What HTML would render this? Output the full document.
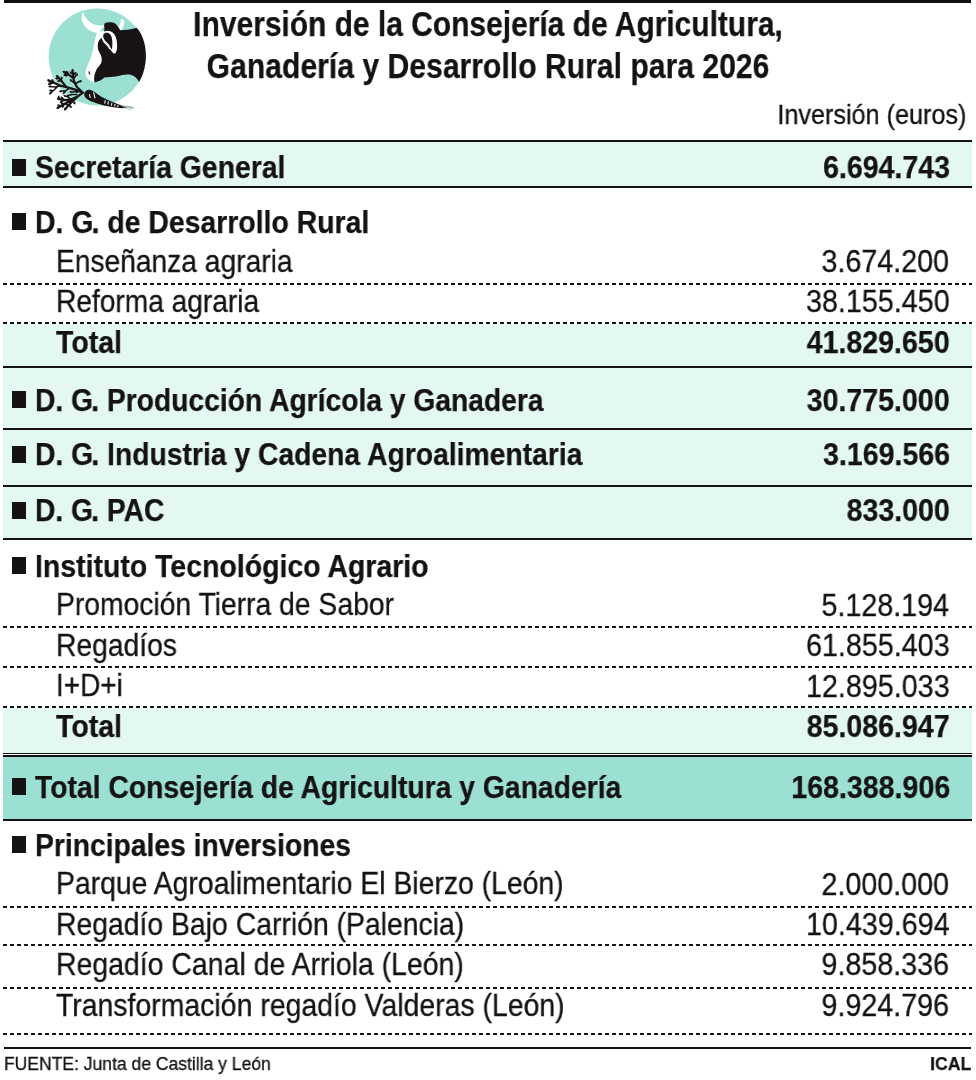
<!DOCTYPE html>
<html lang="es"><head><meta charset="utf-8"><title>Inversión de la Consejería de Agricultura</title>
<style>
html,body{margin:0;padding:0;background:#fff}
body{width:976px;height:1080px;position:relative;overflow:hidden;font-family:"Liberation Sans",sans-serif;color:#151213}
.r{position:absolute}
.d{position:absolute;background-image:repeating-linear-gradient(90deg,#151213 0,#151213 4px,transparent 4px,transparent 7px)}
.t{position:absolute;white-space:nowrap;line-height:1;will-change:transform}
.b{font-weight:700;-webkit-text-stroke:0.25px #151213}
.n{font-weight:400;-webkit-text-stroke:0.3px #151213}
.c{text-align:center}
.k{letter-spacing:-2px}
</style></head>
<body>
<div class="r" style="left:4px;top:0px;width:967px;height:3px;background:#120f10"></div>
<svg class="ic" style="position:absolute;left:40px;top:0px" width="120" height="124" viewBox="40 0 120 124">
<circle cx="97.2" cy="56.9" r="48.5" fill="#9be0d3"/>
<g transform="translate(76,8) scale(0.07582)">
<path d="M84 60 C64 122 76 206 142 270 C194 310 246 326 300 330 L375 228 C320 238 250 228 190 190 C145 158 112 110 100 62 Z" fill="#fff"/>
<path d="M292 316 L380 300 L350 390 L300 450 L290 520 L310 590 L345 650 L335 735 L275 800 L240 890 L243 978 C198 972 142 940 126 880 C118 830 148 770 182 690 C212 610 232 520 250 420 C258 380 270 340 286 316 Z" fill="#fff"/>
<path d="M592 150 C615 138 632 150 636 190 C636 230 620 268 588 292 L556 252 C580 232 592 195 592 150 Z" fill="#fff"/>
<path d="M372 208 C410 186 470 184 512 200 C545 222 565 262 582 292 C640 290 720 290 800 262 C870 330 925 480 922 640 C918 780 880 900 832 975 C805 925 770 892 720 880 C660 868 600 885 540 900 C480 912 420 912 372 915 C352 945 300 970 243 978 C232 920 245 860 275 805 C300 765 330 745 338 710 C345 670 335 630 312 590 C292 555 282 510 290 465 C298 425 325 395 350 388 C340 360 348 335 372 320 C378 280 372 240 372 208 Z" fill="#181415"/>
<path d="M345 335 C370 295 440 285 490 330 C535 375 550 460 540 540 C535 575 522 598 505 604 C470 590 455 545 430 505 C410 478 380 462 362 430 C345 400 338 365 345 335 Z" fill="#fff"/>
<path d="M360 352 C378 322 424 318 452 350 C478 382 484 450 478 512 C476 532 474 542 470 546 C456 528 446 500 428 476 C410 456 390 442 376 418 C362 396 354 374 360 352 Z" fill="#181415"/>
<path d="M340 398 C310 420 286 470 290 520 C294 560 310 580 330 572 C348 560 356 520 358 478 C358 450 352 420 340 398 Z" fill="#181415"/>
<path d="M342 392 C352 430 372 462 405 484 C425 498 438 520 448 545" stroke="#fff" stroke-width="14" fill="none"/>
<ellipse cx="176" cy="856" rx="9" ry="24" transform="rotate(-14 176 856)" fill="#181415"/>
</g>
<g transform="translate(44,64) scale(0.09836)">
<path d="M412 296 C418 272 440 258 466 262 C490 268 510 282 528 296 C560 322 600 345 650 366 C700 386 750 406 800 426 L840 442 L800 450 C760 448 700 440 650 430 C590 418 540 402 500 386 C470 374 438 360 422 342 C410 326 406 308 410 294 Z" fill="#181415"/>
<g stroke="#f2fbf9" stroke-width="11" stroke-linecap="round" fill="none">
<path d="M505 292 L518 345"/>
<path d="M462 312 L470 340"/>
<path d="M622 372 L618 398"/>
<path d="M655 384 L650 408"/>
<path d="M690 398 L686 418"/>
<path d="M722 410 L720 426"/>
<path d="M752 420 L750 434"/>
</g>
<g stroke="#5f8791" stroke-width="5" fill="none" stroke-linecap="round"><path d="M800 432 L915 452"/><path d="M810 426 L900 436"/><path d="M805 440 L885 466"/><path d="M830 436 L905 444"/></g>
</g>
<g transform="translate(40,60) scale(0.06147)">
<path d="M700 532 L600 440 L552 340 L536 250 L530 168 M700 532 L560 478 L430 442 L330 418 L230 372 L138 332 M700 532 L610 596 L510 640 L400 652 L298 632 M610 596 L540 660 L470 730 L408 802 M546 300 L470 240 L388 192 M430 442 L345 335 L280 264 M510 650 L390 720 L288 778" stroke="#181415" stroke-width="36" stroke-linecap="round" stroke-linejoin="round" fill="none"/>
<path d="M566 390 L640 350 L662 344 M546 300 L600 236 M536 250 L576 214 M560 370 L500 330 M538 230 L500 204 M470 240 L440 196 M470 240 L420 252 M424 214 L400 242 M345 335 L300 342 M345 335 L352 290 M312 298 L270 302 M330 418 L250 440 L156 430 M280 440 L216 500 L166 544 M230 372 L160 382 M230 372 L202 330 M186 354 L150 390 M480 456 L420 500 L332 510 M420 500 L384 542 M216 500 L170 496 M510 640 L450 600 L402 582 M400 652 L352 612 M400 652 L342 682 M298 632 L304 600 M470 730 L428 720 M470 730 L500 762 M540 660 L562 702 M390 720 L350 700 M390 720 L372 760 M332 755 L300 738 M600 560 L520 562 L452 582 M580 516 L500 520 M640 470 L600 520" stroke="#181415" stroke-width="25" stroke-linecap="round" stroke-linejoin="round" fill="none"/>
<path d="M528 140L559 189L530 168L505 193Z M113 321L170 316L138 332L148 366Z M271 627L326 610L298 632L315 663Z M390 823L403 767L408 802L443 802Z M364 178L421 180L388 192L394 227Z M261 244L315 263L280 264L276 299Z M264 792L295 743L288 778L321 790Z M689 337L647 376L662 344L633 324Z M618 215L606 271L600 236L565 236Z M597 196L577 249L576 214L541 209Z M477 315L534 320L500 330L504 365Z M477 188L534 195L500 204L504 239Z M424 173L475 200L440 196L431 230Z M393 258L436 220L420 252L449 273Z M382 263L394 207L400 242L435 242Z M273 346L319 312L300 342L327 365Z M356 263L375 317L352 290L322 309Z M243 305L290 273L270 302L295 327Z M129 427L182 406L156 430L176 459Z M145 562L165 509L166 544L201 549Z M133 386L179 352L160 382L187 405Z M187 307L237 334L202 330L192 364Z M130 410L147 355L150 390L185 393Z M305 513L352 481L332 510L358 534Z M366 563L378 507L384 542L419 542Z M143 494L195 471L170 496L191 525Z M376 572L433 565L402 582L414 615Z M331 594L387 606L352 612L352 647Z M317 695L350 647L342 682L375 695Z M309 573L326 628L304 600L273 618Z M401 714L457 699L428 720L444 752Z M519 782L465 764L500 762L504 727Z M575 726L527 694L562 702L575 669Z M325 688L383 686L350 700L358 734Z M361 785L357 728L372 760L406 750Z M276 725L333 725L300 738L308 773Z M426 590L466 550L452 582L482 601Z M472 521L522 492L500 520L524 546Z M583 542L593 485L600 520L635 519Z" fill="#181415"/>
</g>
</svg>
<div class="t b c " style="left:-12.4px;width:1000px;top:7px;font-size:35.4px;transform:scaleX(0.846);transform-origin:50% 0">Inversión de la Consejería de Agricultura,</div>
<div class="t b c " style="left:-12.4px;width:1000px;top:49px;font-size:35.4px;transform:scaleX(0.8515);transform-origin:50% 0">Ganadería y Desarrollo Rural para 2026</div>
<div class="t n " style="right:9.5px;top:101px;font-size:27.5px;transform:scaleX(0.916);transform-origin:100% 0">Inversión (euros)</div>
<div class="r" style="left:3.1px;top:141px;width:969.2px;height:46.5px;background:#e2f8f1"></div>
<div class="r" style="left:3.1px;top:323.5px;width:969.2px;height:215.0px;background:#e2f8f1"></div>
<div class="r" style="left:3.1px;top:707.8px;width:969.2px;height:45.40000000000009px;background:#e2f8f1"></div>
<div class="r" style="left:3.1px;top:757px;width:969.2px;height:63px;background:#9be0d3"></div>
<div class="r" style="left:3.3px;top:139.8px;width:968.7px;height:2px;background:#151213"></div>
<div class="r" style="left:11.5px;top:158.7px;width:14.5px;height:17.0px;background:#151213"></div>
<div class="t b " style="left:34.6px;top:152px;font-size:31.5px;transform:scaleX(0.899);transform-origin:0 0">Secretaría General</div>
<div class="t b " style="right:26px;top:152px;font-size:31.5px;transform:scaleX(0.907);transform-origin:100% 0">6.694.743</div>
<div class="r" style="left:3.3px;top:186.2px;width:968.7px;height:2px;background:#151213"></div>
<div class="r" style="left:11.5px;top:213.0px;width:14.5px;height:17.0px;background:#151213"></div>
<div class="t b " style="left:34.6px;top:207px;font-size:31.5px;transform:scaleX(0.9016);transform-origin:0 0">D. <span class="k">G</span>. de Desarrollo Rural</div>
<div class="t n " style="left:55.5px;top:246px;font-size:31.5px;transform:scaleX(0.8944);transform-origin:0 0">Enseñanza agraria</div>
<div class="t n " style="right:26.8px;top:246px;font-size:31.5px;transform:scaleX(0.911);transform-origin:100% 0">3.674.200</div>
<div class="d" style="left:3.2px;top:283px;width:969.0999999999999px;height:2px"></div>
<div class="t n " style="left:55.5px;top:286px;font-size:31.5px;transform:scaleX(0.8927);transform-origin:0 0">Reforma agraria</div>
<div class="t n " style="right:26.8px;top:286px;font-size:31.5px;transform:scaleX(0.911);transform-origin:100% 0">38.155.450</div>
<div class="d" style="left:3.2px;top:321.8px;width:969.0999999999999px;height:2px"></div>
<div class="t b " style="left:55.5px;top:327px;font-size:31.5px;transform:scaleX(0.9042);transform-origin:0 0">Total</div>
<div class="t b " style="right:26px;top:327px;font-size:31.5px;transform:scaleX(0.907);transform-origin:100% 0">41.829.650</div>
<div class="r" style="left:3.3px;top:366.4px;width:968.7px;height:2px;background:#151213"></div>
<div class="r" style="left:11.5px;top:391.2px;width:14.5px;height:17.0px;background:#151213"></div>
<div class="t b " style="left:34.6px;top:385px;font-size:31.5px;transform:scaleX(0.896);transform-origin:0 0">D. <span class="k">G</span>. Producción Agrícola y Ganadera</div>
<div class="t b " style="right:26px;top:385px;font-size:31.5px;transform:scaleX(0.907);transform-origin:100% 0">30.775.000</div>
<div class="r" style="left:3.3px;top:427.6px;width:968.7px;height:2px;background:#151213"></div>
<div class="r" style="left:11.5px;top:445.5px;width:14.5px;height:17.0px;background:#151213"></div>
<div class="t b " style="left:34.6px;top:439px;font-size:31.5px;transform:scaleX(0.8981);transform-origin:0 0">D. <span class="k">G</span>. Industria y Cadena Agroalimentaria</div>
<div class="t b " style="right:26px;top:439px;font-size:31.5px;transform:scaleX(0.907);transform-origin:100% 0">3.169.566</div>
<div class="r" style="left:3.3px;top:485px;width:968.7px;height:2px;background:#151213"></div>
<div class="r" style="left:11.5px;top:502.0px;width:14.5px;height:17.0px;background:#151213"></div>
<div class="t b " style="left:34.6px;top:495px;font-size:31.5px;transform:scaleX(0.8955);transform-origin:0 0">D. <span class="k">G</span>. PAC</div>
<div class="t b " style="right:26px;top:495px;font-size:31.5px;transform:scaleX(0.907);transform-origin:100% 0">833.000</div>
<div class="r" style="left:3.3px;top:537.6px;width:968.7px;height:2px;background:#151213"></div>
<div class="r" style="left:11.5px;top:556.9px;width:14.5px;height:17.0px;background:#151213"></div>
<div class="t b " style="left:34.6px;top:551px;font-size:31.5px;transform:scaleX(0.9031);transform-origin:0 0">Instituto Tecnológico Agrario</div>
<div class="t n " style="left:55.5px;top:589px;font-size:31.5px;transform:scaleX(0.8977);transform-origin:0 0">Promoción Tierra de Sabor</div>
<div class="t n " style="right:26.8px;top:590px;font-size:31.5px;transform:scaleX(0.911);transform-origin:100% 0">5.128.194</div>
<div class="d" style="left:3.2px;top:626.2px;width:969.0999999999999px;height:2px"></div>
<div class="t n " style="left:55.5px;top:630px;font-size:31.5px;transform:scaleX(0.8976);transform-origin:0 0">Regadíos</div>
<div class="t n " style="right:26.8px;top:630px;font-size:31.5px;transform:scaleX(0.911);transform-origin:100% 0">61.855.403</div>
<div class="d" style="left:3.2px;top:666.2px;width:969.0999999999999px;height:2px"></div>
<div class="t n " style="left:55.5px;top:670px;font-size:31.5px;transform:scaleX(0.8871);transform-origin:0 0">I+D+i</div>
<div class="t n " style="right:26.8px;top:671px;font-size:31.5px;transform:scaleX(0.911);transform-origin:100% 0">12.895.033</div>
<div class="d" style="left:3.2px;top:706.1px;width:969.0999999999999px;height:2px"></div>
<div class="t b " style="left:55.5px;top:711px;font-size:31.5px;transform:scaleX(0.9042);transform-origin:0 0">Total</div>
<div class="t b " style="right:26px;top:711px;font-size:31.5px;transform:scaleX(0.907);transform-origin:100% 0">85.086.947</div>
<div class="r" style="left:3.3px;top:752.8px;width:968.7px;height:1.2px;background:#151213"></div>
<div class="r" style="left:3.3px;top:755.3px;width:968.7px;height:2px;background:#151213"></div>
<div class="r" style="left:11.5px;top:778.0px;width:14.5px;height:17.0px;background:#151213"></div>
<div class="t b " style="left:34.6px;top:772px;font-size:31.5px;transform:scaleX(0.8978);transform-origin:0 0">Total Consejería de Agricultura y Ganadería</div>
<div class="t b " style="right:26px;top:772px;font-size:31.5px;transform:scaleX(0.907);transform-origin:100% 0">168.388.906</div>
<div class="r" style="left:3.3px;top:819.2px;width:968.7px;height:2px;background:#151213"></div>
<div class="r" style="left:11.5px;top:835.8px;width:14.5px;height:17.0px;background:#151213"></div>
<div class="t b " style="left:34.6px;top:830px;font-size:31.5px;transform:scaleX(0.8975);transform-origin:0 0">Principales inversiones</div>
<div class="t n " style="left:55.5px;top:868px;font-size:31.5px;transform:scaleX(0.9004);transform-origin:0 0">Parque Agroalimentario El Bierzo (León)</div>
<div class="t n " style="right:26.8px;top:869px;font-size:31.5px;transform:scaleX(0.911);transform-origin:100% 0">2.000.000</div>
<div class="d" style="left:3.2px;top:905.5px;width:969.0999999999999px;height:2px"></div>
<div class="t n " style="left:55.5px;top:909px;font-size:31.5px;transform:scaleX(0.9);transform-origin:0 0">Regadío Bajo Carrión (Palencia)</div>
<div class="t n " style="right:26.8px;top:909px;font-size:31.5px;transform:scaleX(0.911);transform-origin:100% 0">10.439.694</div>
<div class="d" style="left:3.2px;top:944.4px;width:969.0999999999999px;height:2px"></div>
<div class="t n " style="left:55.5px;top:949px;font-size:31.5px;transform:scaleX(0.9027);transform-origin:0 0">Regadío Canal de Arriola (León)</div>
<div class="t n " style="right:26.8px;top:949px;font-size:31.5px;transform:scaleX(0.911);transform-origin:100% 0">9.858.336</div>
<div class="d" style="left:3.2px;top:986.9px;width:969.0999999999999px;height:2px"></div>
<div class="t n " style="left:55.5px;top:990px;font-size:31.5px;transform:scaleX(0.9022);transform-origin:0 0">Transformación regadío Valderas (León)</div>
<div class="t n " style="right:26.8px;top:990px;font-size:31.5px;transform:scaleX(0.911);transform-origin:100% 0">9.924.796</div>
<div class="d" style="left:3.2px;top:1032.8px;width:969.0999999999999px;height:2px"></div>
<div class="r" style="left:3.5px;top:1046.8px;width:967.7px;height:2px;background:#151213"></div>
<div class="t n " style="left:3.6px;top:1054px;font-size:19px;transform:scaleX(0.922);transform-origin:0 0">FUENTE: Junta de Castilla y León</div>
<div class="t b " style="right:5px;top:1054px;font-size:19px;transform:scaleX(0.93);transform-origin:100% 0">ICAL</div>
</body></html>
